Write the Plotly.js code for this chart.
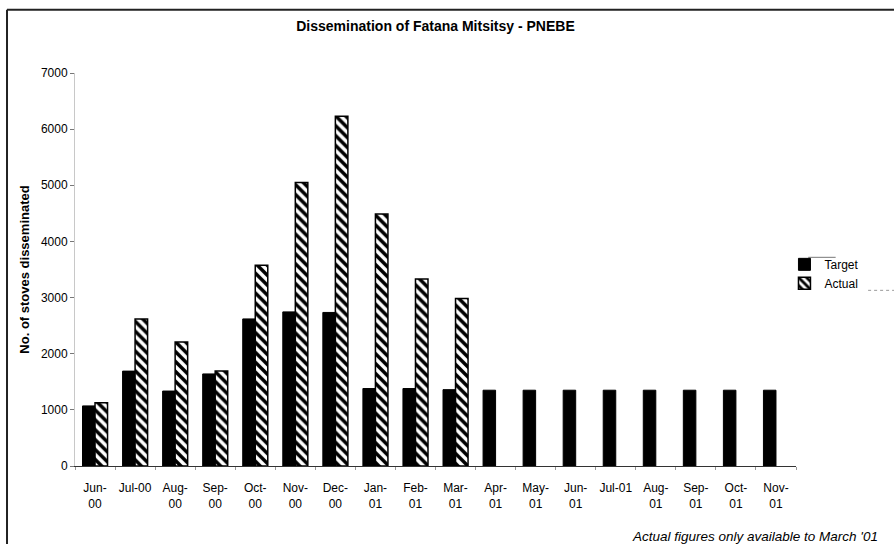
<!DOCTYPE html>
<html>
<head>
<meta charset="utf-8">
<script src="https://cdn.plot.ly/plotly-3.0.1.min.js"></script>
<style>html,body{margin:0;padding:0;background:#fff;}#chart{width:894px;height:544px;}</style>
</head>
<body>
<div id="chart"></div>
<script>
const months = ["Jun-00","Jul-00","Aug-00","Sep-00","Oct-00","Nov-00","Dec-00","Jan-01","Feb-01","Mar-01","Apr-01","May-01","Jun-01","Jul-01","Aug-01","Sep-01","Oct-01","Nov-01"];
const monthLabels = ["Jun-<br>00","Jul-00","Aug-<br>00","Sep-<br>00","Oct-<br>00","Nov-<br>00","Dec-<br>00","Jan-<br>01","Feb-<br>01","Mar-<br>01","Apr-<br>01","May-<br>01","Jun-<br>01","Jul-01","Aug-<br>01","Sep-<br>01","Oct-<br>01","Nov-<br>01"];
const target = [1070,1690,1335,1640,2620,2745,2735,1380,1380,1360,1350,1350,1350,1350,1350,1350,1350,1350];
const actual = [1125,2620,2210,1690,3575,5050,6230,4490,3330,2985,null,null,null,null,null,null,null,null];
const yTicks = [0,1000,2000,3000,4000,5000,6000,7000];

const font = "Liberation Sans, Arial, sans-serif";

const traces = [
  {type:"bar", name:"Target", x:months, y:target,
   marker:{color:"#000000", line:{color:"#000000", width:1}}},
  {type:"bar", name:"Actual", x:months, y:actual,
   marker:{color:"#ffffff", line:{color:"#000000", width:1.5},
     pattern:{shape:"\\", fgcolor:"#000000", bgcolor:"#ffffff", size:7, solidity:0.5}}}
];

const layout = {
  width:894, height:544,
  paper_bgcolor:"#ffffff", plot_bgcolor:"#ffffff",
  margin:{l:75, r:98, t:72.5, b:77.5, pad:0},
  font:{family:font, size:12, color:"#000"},
  title:{text:"<b>Dissemination of Fatana Mitsitsy - PNEBE</b>", font:{family:font, size:14, color:"#000"},
         x:0.5, xanchor:"center", y:0.952, yanchor:"middle", xref:"paper"},
  barmode:"group", bargap:0.375, bargroupgap:0,
  showlegend:true,
  legend:{x:0.984, xanchor:"left", y:0.55, yanchor:"top", font:{family:font, size:12, color:"#000"},
          bgcolor:"rgba(0,0,0,0)", tracegroupgap:0, itemwidth:30},
  xaxis:{type:"category", tickvals:months, ticktext:monthLabels, showgrid:false, zeroline:false,
         showline:true, linecolor:"#333", linewidth:1, ticks:"outside", tickson:"boundaries",
         ticklen:3, tickcolor:"#999", ticklabelstandoff:11, tickangle:0,
         tickfont:{family:font, size:12, color:"#000"}, automargin:false},
  yaxis:{range:[0,7000], tickvals:yTicks, ticktext:yTicks.map(String), showgrid:false, zeroline:false,
         showline:true, linecolor:"#c8c8c8", linewidth:1, ticks:"outside", ticklen:4, tickcolor:"#777",
         tickfont:{family:font, size:12, color:"#000"}, automargin:false,
         title:{text:"<b>No. of stoves disseminated</b>", font:{family:font, size:13, color:"#000"}, standoff:8}},
  shapes:[
    {type:"line", xref:"paper", yref:"paper", x0:-0.0943, x1:-0.0943, y0:1.161, y1:-0.3, line:{color:"#222", width:2}},
    {type:"line", xref:"paper", yref:"paper", x0:-0.0943, x1:1.2, y0:1.161, y1:1.161, line:{color:"#222", width:2}},
    {type:"line", xref:"paper", yref:"paper", x0:1.017, x1:1.055, y0:0.531, y1:0.531, line:{color:"#777", width:1}},
    {type:"line", xref:"paper", yref:"paper", x0:1.10, x1:1.2, y0:0.447, y1:0.447, line:{color:"#999", width:1, dash:"dot"}}
  ],
  annotations:[
    {text:"<i>Actual figures only available to March '01</i>", xref:"paper", yref:"paper", x:1.1165, y:-0.179,
     xanchor:"right", yanchor:"middle", showarrow:false, font:{family:font, size:13.5, color:"#000"}}
  ]
};

Plotly.newPlot("chart", traces, layout, {displayModeBar:false, staticPlot:true});
</script>
</body>
</html>
